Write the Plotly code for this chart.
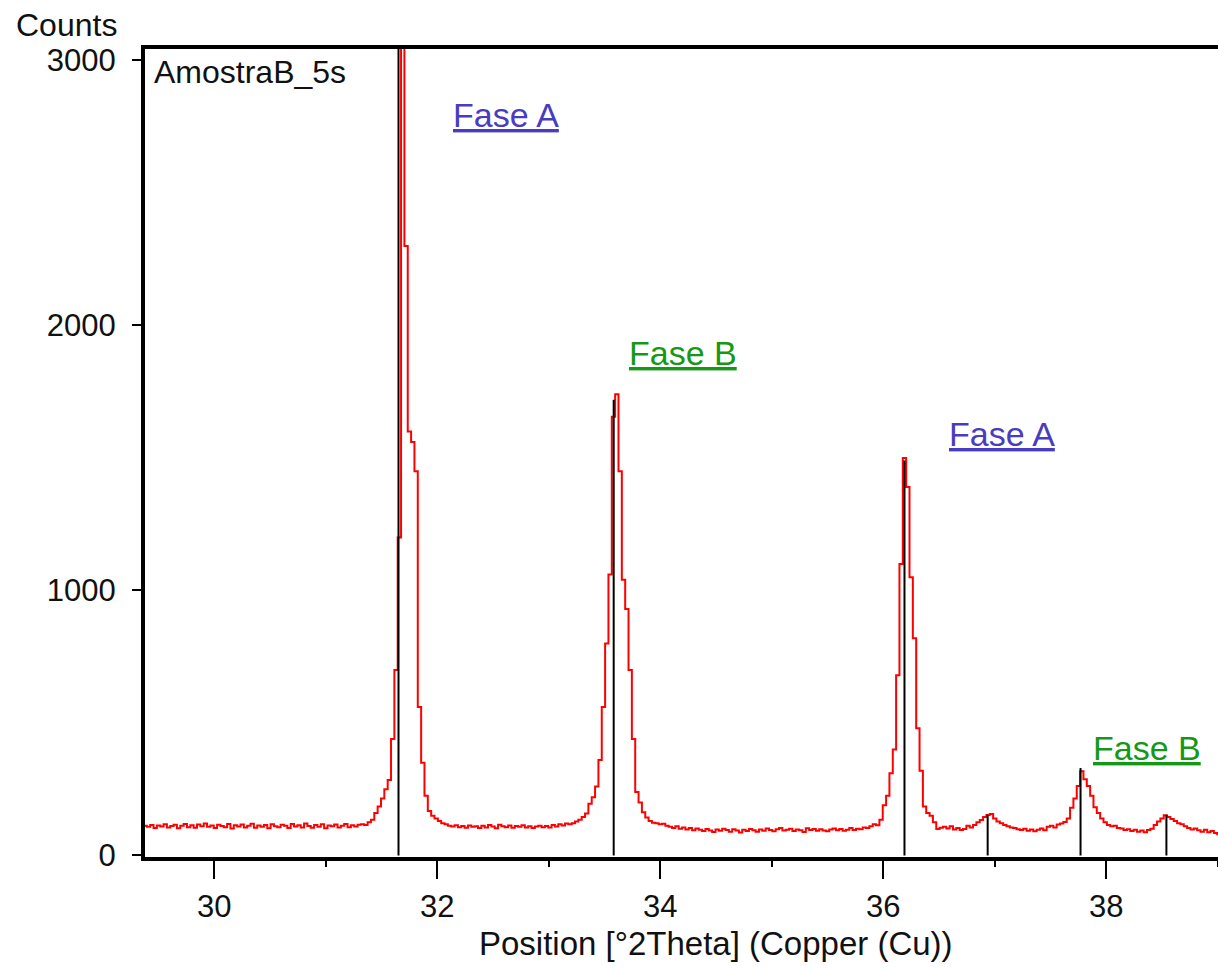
import numpy as np
import plotly.graph_objects as go

# Scan settings (degrees 2Theta)
scan_start = 29.35
scan_step = 0.03

# Measured intensity, one value per scan step
counts = [
    # 29.35 - 31.30 background
    120, 112, 108, 115, 104, 113, 109, 118, 106, 111,
    116, 103, 112, 119, 107, 114, 105, 117, 110, 121,
    108, 113, 104, 116, 111, 107, 119, 102, 114, 109,
    117, 106, 112, 120, 105, 113, 108, 115, 103, 118,
    110, 107, 116, 112, 104, 119, 109, 114, 106, 121,
    111, 105, 115, 108, 118, 103, 113, 110, 117, 106,
    112, 119, 107, 114, 109, 116,
    # reflection near 31.7
    118, 115, 125, 135, 160, 185, 215, 250, 285, 440,
    700, 1200, 3350, 2300, 1600, 1560, 1450, 560, 350, 225,
    168, 150, 140, 130, 122,
    # background
    118, 112, 109, 114, 107, 111, 105, 113, 108, 110,
    104, 112, 106, 115, 109, 103, 116, 110, 107, 113,
    105, 111, 108, 114, 106, 110, 104, 109, 112, 107,
    111, 106, 115, 109, 118, 113, 121,
    # reflection near 33.6
    118, 122, 128, 135, 145, 158, 195, 220, 260, 360,
    560, 800, 1060, 1655, 1740, 1450, 1040, 930, 700, 440,
    240, 200, 163, 143, 130, 124,
    # background
    122, 118, 120, 112, 108, 104, 110, 101, 106, 98,
    104, 95, 102, 97, 92, 100, 94, 89, 98, 93,
    101, 96, 90, 99, 94, 87, 97, 92, 100, 95,
    90, 98, 93, 102, 96, 91, 99, 104, 94, 97,
    101, 92, 98, 95, 89, 103, 96, 100, 93, 99,
    94, 91, 98, 102, 95, 100, 93, 97, 104, 96,
    101, 99, 106, 104,
    # reflection near 36.2
    110, 118, 114, 135, 190, 225, 310, 400, 680, 1100,
    1500, 1390, 1050, 820, 480, 320, 185, 160, 150, 125,
    100, 105,
    # tail with weak reflections
    108, 102, 110, 98, 104, 96, 100, 112, 106, 115,
    125, 134, 145, 153, 157, 140, 128, 122, 115, 110,
    106, 104, 99, 96, 101, 93, 98, 91, 97, 102,
    95, 108, 112, 106, 117, 121, 126, 140, 180, 215,
    262, 318, 288, 262, 225, 182, 160, 140, 125, 115,
    110, 112, 104, 102, 96, 99, 92, 97, 90, 94,
    88, 96, 101, 115, 128, 140, 152, 145, 138, 130,
    122, 118, 110, 104, 98, 102, 95, 90, 97, 88,
    92, 85, 80,
]

two_theta = scan_start + scan_step * np.arange(len(counts))

# Reference pattern lines
ref_pos = [31.652, 33.582, 36.190, 36.936, 37.769, 38.539]
ref_height = [3100, 1720, 1490, 153, 330, 153]

# Phase labels
phase_text = ["Fase A", "Fase B", "Fase A", "Fase B"]
phase_x = [32.12, 33.70, 36.57, 37.86]
phase_y = [2794, 1896, 1590, 406]
phase_color = ["#4a3cbf", "#159815", "#4a3cbf", "#159815"]

x_min, x_max = 29.3785, 39.0018
y_min, y_max = -5.7, 3043

stick_x, stick_y = [], []
for p, h in zip(ref_pos, ref_height):
    stick_x += [p, p, None]
    stick_y += [0, h, None]

fig = go.Figure()
fig.add_trace(go.Scatter(
    x=two_theta, y=counts, mode="lines",
    line=dict(color="#ff0000", width=2, shape="hvh"),
    hoverinfo="skip", showlegend=False,
))
fig.add_trace(go.Scatter(
    x=stick_x, y=stick_y, mode="lines",
    line=dict(color="#000000", width=2),
    hoverinfo="skip", showlegend=False,
))

for t, px, py, c in zip(phase_text, phase_x, phase_y, phase_color):
    fig.add_annotation(
        x=px, y=py, xref="x", yref="y", text=f"<u>{t}</u>",
        showarrow=False, xanchor="left", yanchor="middle",
        font=dict(family="Liberation Sans", size=34, color=c),
    )

axis_font = dict(family="Liberation Sans", size=32, color="#111111")
tick_font = dict(family="Liberation Sans", size=31, color="#111111")

fig.add_annotation(
    x=-0.1221, y=1.0297, xref="paper", yref="paper", text="Counts",
    showarrow=False, xanchor="left", yanchor="middle", font=axis_font,
)
fig.add_annotation(
    x=0.0065, y=0.9715, xref="paper", yref="paper", text="AmostraB_5s",
    showarrow=False, xanchor="left", yanchor="middle", font=axis_font,
)
fig.add_annotation(
    x=0.532, y=-0.1075, xref="paper", yref="paper",
    text="Position [°2Theta] (Copper (Cu))",
    showarrow=False, xanchor="center", yanchor="middle",
    font=dict(family="Liberation Sans", size=33, color="#111111"),
)

fig.update_xaxes(
    range=[x_min, x_max], tickvals=[30, 32, 34, 36, 38],
    showgrid=False, zeroline=False,
    showline=True, linecolor="#000000", linewidth=4, mirror=True,
    ticks="outside", ticklen=18, tickwidth=2, tickcolor="#000000",
    ticklabelstandoff=1,
    minor=dict(tickvals=[31, 33, 35, 37, 39], ticks="outside", ticklen=6,
               tickwidth=2, tickcolor="#000000", showgrid=False),
    tickfont=tick_font,
)
fig.update_yaxes(
    range=[y_min, y_max], tickvals=[0, 1000, 2000, 3000],
    showgrid=False, zeroline=False,
    showline=True, linecolor="#000000", linewidth=4,
    ticks="outside", ticklen=9, tickwidth=2, tickcolor="#000000",
    ticklabelstandoff=10,
    tickfont=tick_font,
)

fig.update_layout(
    width=1218, height=969,
    margin=dict(l=145, r=0, t=49, b=112),
    paper_bgcolor="#ffffff", plot_bgcolor="#ffffff",
    showlegend=False,
)

fig.write_html("out.html")
